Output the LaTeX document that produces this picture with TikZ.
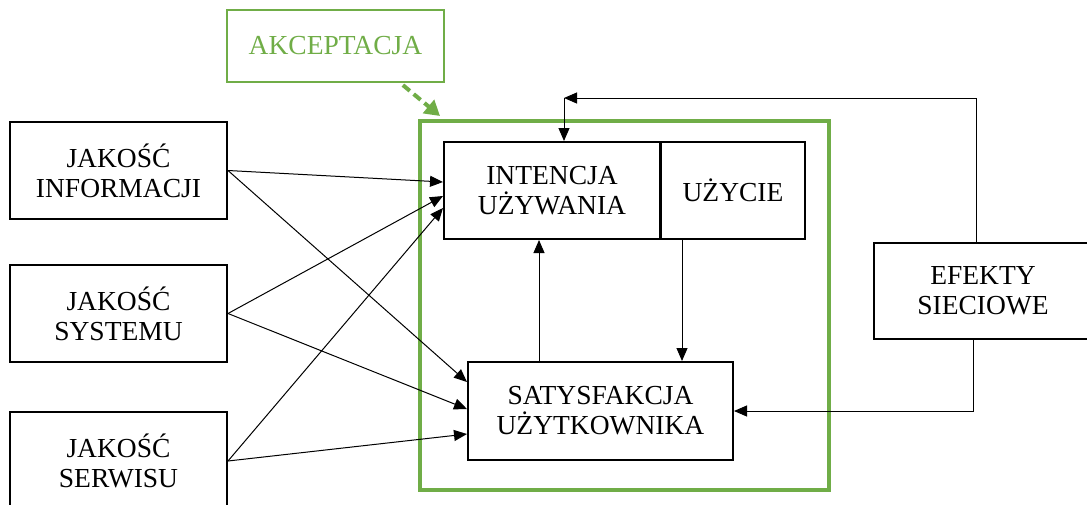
\documentclass[tikz,border=0pt]{standalone}
\usepackage{fontspec}
\setmainfont{Liberation Serif}
\usetikzlibrary{arrows.meta,calc}
\definecolor{accgreen}{RGB}{112,173,71}
\tikzset{
  box/.style={draw=black, line width=2pt, fill=white, align=center,
    inner sep=0pt, font=\fontsize{27.5}{30}\selectfont},
  arr/.style={draw=black, line width=1pt,
    -{Triangle[length=13pt,width=11pt]}},
  greenbox/.style={draw=accgreen, line width=2.2pt, text=accgreen, align=center,
    inner sep=0pt, font=\fontsize{27.5}{30}\selectfont},
  frame/.style={draw=accgreen, line width=4pt, inner sep=0pt},
  dasharr/.style={draw=accgreen, line width=4pt, dash pattern=on 9pt off 5pt,
    -{Triangle[length=15pt,width=17pt]}}
}
\begin{document}
\begin{tikzpicture}[x=1pt,y=-1pt]
  \useasboundingbox (0,0) rectangle (1087,504);

  % acceptance frame around the core constructs
  \node[frame, minimum width=409pt, minimum height=369pt] (acc) at (624.5,305.5) {};

  % quality factors
  \node[box, minimum width=217pt, minimum height=97pt] (info) at (118.5,170.5) {JAKOŚĆ\\INFORMACJI};
  \node[box, minimum width=217pt, minimum height=97pt] (sys)  at (118.5,313.5) {JAKOŚĆ\\SYSTEMU};
  \node[box, minimum width=217pt, minimum height=98pt] (serw) at (118.5,461)   {JAKOŚĆ\\SERWISU};

  % acceptance label
  \node[greenbox, minimum width=217pt, minimum height=72pt] (akc) at (335.5,46) {AKCEPTACJA};

  % core constructs
  \node[box, minimum width=216pt, minimum height=97pt] (int) at (552,190.5) {INTENCJA\\UŻYWANIA};
  \node[box, minimum width=144pt, minimum height=97pt] (uz)  at (733,190.5) {UŻYCIE};
  \node[box, minimum width=265pt, minimum height=98pt] (sat) at (600.5,411) {SATYSFAKCJA\\UŻYTKOWNIKA};

  % network effects
  \node[box, minimum width=218pt, minimum height=96pt] (ef) at (983,291) {EFEKTY\\SIECIOWE};

  % quality -> intention
  \draw[arr] (info.east) -- ($(int.west)+(0,-8.5)$);
  \draw[arr] (sys.east)  -- ($(int.west)+(0,5.5)$);
  \draw[arr] (serw.east) -- ($(int.west)+(0,17.5)$);
  % quality -> satisfaction
  \draw[arr] (info.east) -- ($(sat.west)+(0,-29)$);
  \draw[arr] (sys.east)  -- ($(sat.west)+(0,-2)$);
  \draw[arr] (serw.east) -- ($(sat.west)+(0,23)$);

  % satisfaction -> intention, use -> satisfaction
  \coordinate (p1) at ($(sat.north west)+(72,0)$);
  \draw[arr] (p1) -- (p1 |- int.south);
  \coordinate (p2) at ($(uz.south west)+(22,0)$);
  \draw[arr] (p2) -- (p2 |- sat.north);

  % network effects feedback
  \coordinate (e1) at ($(ef.north west)+(103,0)$);
  \coordinate (fb) at ($(int.north west)+(121,-43)$);
  \draw[arr] (e1) |- (fb);
  \draw[arr] (fb) -- (fb |- int.north);
  \coordinate (e2) at ($(ef.south west)+(100,0)$);
  \draw[arr] (e2) |- (sat.east);

  % acceptance pointer
  \coordinate (a1) at ($(akc.south west)+(177,2)$);
  \draw[dasharr] (a1) -- ($(acc.north west)+(22,-3)$);
\end{tikzpicture}
\end{document}
